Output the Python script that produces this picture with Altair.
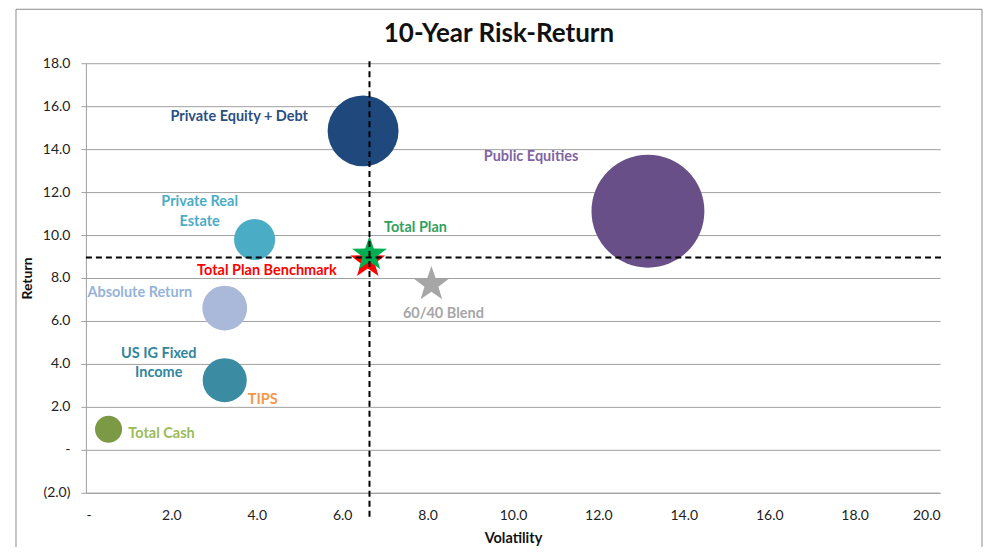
import math
import altair as alt
import pandas as pd

# ---- data ----
names = ["Private Equity + Debt", "Public Equities", "Private Real Estate",
         "Absolute Return", "US IG Fixed Income", "Total Cash"]
vol = [6.49, 13.16, 3.95, 3.25, 3.25, 0.53]
ret = [14.85, 11.11, 9.79, 6.60, 3.24, 0.96]
weight = [15.8, 40.0, 5.3, 6.3, 6.1, 2.3]
colors = ["#1F497D", "#684F88", "#4BACC6", "#AAB9D9", "#3B8BA2", "#7C9A45"]

star_names = ["Total Plan Benchmark", "Total Plan", "60/40 Blend"]
star_vol = [6.60, 6.64, 8.09]
star_ret = [8.78, 9.10, 7.70]
star_colors = ["#FF0000", "#00B050", "#A6A6A6"]

ref_vol = 6.64
ref_ret = 8.95

x_ticks = list(range(0, 21, 2))
y_ticks = list(range(-2, 19, 2))

bub = pd.DataFrame({"name": names, "vol": vol, "ret": ret, "weight": weight})
stars = pd.DataFrame({"name": star_names, "vol": star_vol, "ret": star_ret})

W, H = 855, 430
FONT = "Lato"
GRAY = "#A0A0A0"

# five-pointed star symbol path (unit box)
pts = []
for k in range(10):
    r = 1.0 if k % 2 == 0 else 0.40
    a = math.radians(-90 + 36 * k)
    pts.append(f"{r * math.cos(a):.4f},{r * math.sin(a):.4f}")
STAR = "M" + " L".join(pts) + " Z"

num_expr = ("datum.value == 0 ? '-' : (datum.value < 0 ? '(' + format(-datum.value, '.1f') + ')' "
            ": format(datum.value, '.1f'))")

XS = alt.Scale(domain=[0, 20], nice=False, zero=False)
YS = alt.Scale(domain=[-2, 18], nice=False, zero=False)

def xenc():
    return alt.X("vol:Q", scale=XS,
                 axis=alt.Axis(values=x_ticks, labelExpr=num_expr, grid=False, ticks=False,
                               domainColor=GRAY, labelPadding=16, labelFontSize=14,
                               labelFont=FONT, labelColor="#222", title="Volatility",
                               titleFont=FONT, titleFontSize=14.5, titleFontWeight="bold",
                               titleColor="#111", titlePadding=9))

def yenc():
    return alt.Y("ret:Q", scale=YS,
                 axis=alt.Axis(values=y_ticks, labelExpr=num_expr, grid=True, gridColor=GRAY,
                               domainColor=GRAY, tickColor=GRAY, tickSize=5, labelPadding=11,
                               labelFontSize=14, labelFont=FONT, labelColor="#222",
                               title="Return", titleFont=FONT, titleFontSize=14,
                               titleFontWeight="bold", titleColor="#111", titlePadding=8))

border = alt.Chart(pd.DataFrame({"a": [0]})).mark_rect(
    fillOpacity=0, stroke="#8C8C8C", strokeWidth=1
).encode(x=alt.value(-70), x2=alt.value(897), y=alt.value(-54), y2=alt.value(600))

bubbles = alt.Chart(bub).mark_circle(opacity=1).encode(
    x=xenc(), y=yenc(),
    size=alt.Size("weight:Q", scale=alt.Scale(domain=[0, 40], range=[0, 12769]), legend=None),
    color=alt.Color("name:N", scale=alt.Scale(domain=names, range=colors), legend=None),
)

star_layers = []
for nm, col in zip(star_names, star_colors):
    star_layers.append(
        alt.Chart(stars).transform_filter(alt.datum.name == nm).mark_point(
            shape=STAR, filled=True, opacity=1, size=1350, color=col, strokeWidth=0
        ).encode(x=xenc(), y=yenc())
    )

vline = alt.Chart(pd.DataFrame({"vol": [ref_vol]})).mark_rule(
    color="black", strokeWidth=2, strokeDash=[6, 4]
).encode(x=xenc(), y=alt.value(-2), y2=alt.value(H + 27))

hline = alt.Chart(pd.DataFrame({"ret": [ref_ret]})).mark_rule(
    color="black", strokeWidth=2, strokeDash=[6, 4]
).encode(y=yenc(), x=alt.value(0), x2=alt.value(W + 5))

# label: (series name, source frame, text, color, dx, dy)
label_specs = [
    ("Private Equity + Debt", bub, "Private Equity + Debt", "#2A4F80", -124, -14),
    ("Public Equities", bub, "Public Equities", "#8064A2", -117, -54),
    ("Private Real Estate", bub, "Private Real", "#4BACC6", -55, -38),
    ("Private Real Estate", bub, "Estate", "#4BACC6", -55, -18),
    ("Absolute Return", bub, "Absolute Return", "#95B3D7", -85, -15),
    ("US IG Fixed Income", bub, "US IG Fixed", "#31859C", -66, -26),
    ("US IG Fixed Income", bub, "Income", "#31859C", -66, -7),
    ("US IG Fixed Income", bub, "TIPS", "#F79646", 38, 20),
    ("Total Cash", bub, "Total Cash", "#9BBB59", 53, 5),
    ("Total Plan", stars, "Total Plan", "#33A060", 46, -26),
    ("Total Plan Benchmark", stars, "Total Plan Benchmark", "#FF0000", -101, 10),
    ("60/40 Blend", stars, "60/40 Blend", "#A6A6A6", 12, 30),
]

labels = []
for nm, src, txt, col, dx, dy in label_specs:
    labels.append(
        alt.Chart(src).transform_filter(alt.datum.name == nm).mark_text(
            font=FONT, fontSize=14.5, fontWeight="bold", color=col, dx=dx, dy=dy,
            align="center", baseline="middle"
        ).encode(x=xenc(), y=yenc(), text=alt.value(txt))
    )

chart = alt.layer(border, bubbles, *star_layers, vline, hline, *labels).properties(
    width=W, height=H,
    title=alt.TitleParams("10-Year Risk-Return", font=FONT, fontSize=26, fontWeight="bold",
                          color="#111", anchor="middle", dx=-14, offset=-38, frame="group"),
    autosize=alt.AutoSizeParams(type="none"),
    padding={"left": 78, "top": 55, "right": 45, "bottom": 54},
).configure_view(stroke=None)

chart.save("out.html", embed_options={"renderer": "svg", "actions": False})
